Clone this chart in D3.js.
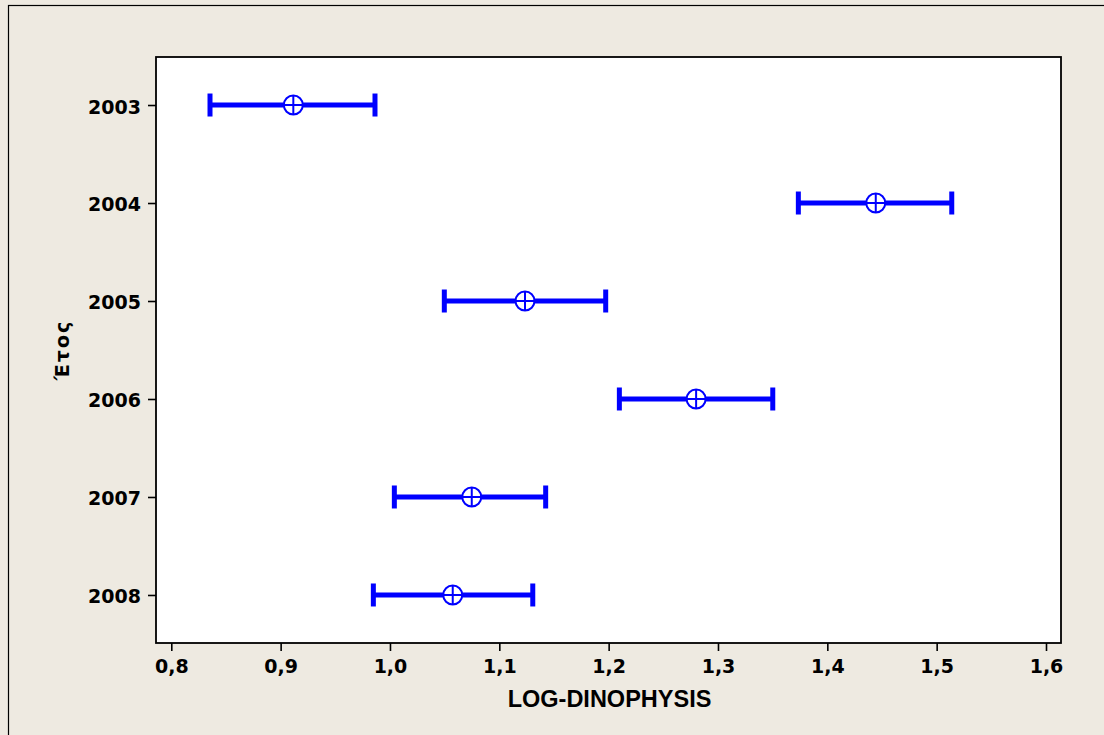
<!DOCTYPE html>
<html>
<head>
<meta charset="utf-8">
<script src="https://cdn.jsdelivr.net/npm/d3@7/dist/d3.min.js"></script>
<style>
  html, body { margin: 0; padding: 0; background: #EEEAE1; }
  svg { display: block; }
</style>
</head>
<body>
<svg id="chart" width="1104" height="735"></svg>
<script>
const years = ["2003", "2004", "2005", "2006", "2007", "2008"];
const means = [0.9116, 1.4443, 1.1235, 1.2800, 1.0748, 1.0574];
const lows  = [0.8354, 1.3735, 1.0497, 1.2098, 1.0040, 0.9848];
const highs = [0.9863, 1.5138, 1.1973, 1.3501, 1.1424, 1.1306];
const xTicks = [0.8, 0.9, 1.0, 1.1, 1.2, 1.3, 1.4, 1.5, 1.6];
const xTitle = "LOG-DINOPHYSIS";
const yTitle = "Έτος";

const svg = d3.select("#chart");
const W = 1104, H = 735;
const frame = { left: 156, right: 1061, top: 57, bottom: 643 };
const blue = "#0000FF";
const numFont = "'DejaVu Sans', Verdana, sans-serif";
const titleFont = "'Liberation Sans', Arial, sans-serif";

// background and outer border (left/top visible)
svg.append("rect").attr("x", 0).attr("y", 0).attr("width", W).attr("height", H).attr("fill", "#EEEAE1");
svg.append("rect").attr("x", 8.5).attr("y", 5.5).attr("width", W + 20).attr("height", H + 20)
  .attr("fill", "none").attr("stroke", "#000").attr("stroke-width", 1.2);

// plot area
svg.append("rect")
  .attr("x", frame.left).attr("y", frame.top)
  .attr("width", frame.right - frame.left).attr("height", frame.bottom - frame.top)
  .attr("fill", "#fff");

const x = d3.scaleLinear().domain([0.8, 1.6]).range([171.3, 1046]);
const y = d3.scalePoint().domain(years).range([frame.top, frame.bottom]).padding(0.49);

const fmt = d => d3.format(".1f")(d).replace(".", ",");

// x axis
const xAxis = svg.append("g")
  .attr("transform", `translate(0,${frame.bottom})`)
  .call(d3.axisBottom(x).tickValues(xTicks).tickFormat(fmt).tickSize(8).tickPadding(9));
xAxis.select(".domain").remove();
xAxis.selectAll(".tick line").attr("stroke", "#000").attr("stroke-width", 1.6);
xAxis.selectAll(".tick text")
  .attr("fill", "#000").attr("font-family", numFont).attr("font-weight", "bold").attr("font-size", 19);

// y axis
const yAxis = svg.append("g")
  .attr("transform", `translate(${frame.left},0)`)
  .call(d3.axisLeft(y).tickSize(8).tickPadding(7));
yAxis.select(".domain").remove();
yAxis.selectAll(".tick line").attr("stroke", "#000").attr("stroke-width", 1.6);
yAxis.selectAll(".tick text")
  .attr("fill", "#000").attr("font-family", numFont).attr("font-weight", "bold").attr("font-size", 19)
  .attr("dy", "0.42em");

// frame border
svg.append("rect")
  .attr("x", frame.left).attr("y", frame.top)
  .attr("width", frame.right - frame.left).attr("height", frame.bottom - frame.top)
  .attr("fill", "none").attr("stroke", "#000").attr("stroke-width", 1.8);

// error bars
const data = years.map((yr, i) => ({ yr, mean: means[i], lo: lows[i], hi: highs[i] }));
const g = svg.append("g");
const capH = 11.5;
const bars = g.selectAll("g.bar").data(data).join("g").attr("class", "bar");
bars.append("line")
  .attr("x1", d => x(d.lo)).attr("x2", d => x(d.hi))
  .attr("y1", d => y(d.yr)).attr("y2", d => y(d.yr))
  .attr("stroke", blue).attr("stroke-width", 5);
bars.append("line")
  .attr("x1", d => x(d.lo)).attr("x2", d => x(d.lo))
  .attr("y1", d => y(d.yr) - capH).attr("y2", d => y(d.yr) + capH)
  .attr("stroke", blue).attr("stroke-width", 5);
bars.append("line")
  .attr("x1", d => x(d.hi)).attr("x2", d => x(d.hi))
  .attr("y1", d => y(d.yr) - capH).attr("y2", d => y(d.yr) + capH)
  .attr("stroke", blue).attr("stroke-width", 5);
const r = 9.5;
bars.append("circle")
  .attr("cx", d => x(d.mean)).attr("cy", d => y(d.yr)).attr("r", r)
  .attr("fill", "#fff").attr("stroke", blue).attr("stroke-width", 2);
bars.append("line")
  .attr("x1", d => x(d.mean) - r).attr("x2", d => x(d.mean) + r)
  .attr("y1", d => y(d.yr)).attr("y2", d => y(d.yr))
  .attr("stroke", blue).attr("stroke-width", 2);
bars.append("line")
  .attr("x1", d => x(d.mean)).attr("x2", d => x(d.mean))
  .attr("y1", d => y(d.yr) - r).attr("y2", d => y(d.yr) + r)
  .attr("stroke", blue).attr("stroke-width", 2);

// titles
svg.append("text")
  .attr("x", (frame.left + frame.right) / 2 + 1).attr("y", 707)
  .attr("text-anchor", "middle")
  .attr("font-family", titleFont).attr("font-weight", "bold").attr("font-size", 23.5)
  .attr("fill", "#000").text(xTitle);

svg.append("text")
  .attr("transform", `translate(69,${(frame.top + frame.bottom) / 2}) rotate(-90)`)
  .attr("text-anchor", "middle")
  .attr("font-family", numFont).attr("font-weight", "bold").attr("font-size", 19)
  .attr("letter-spacing", 2)
  .attr("fill", "#000").text(yTitle);
</script>
</body>
</html>
